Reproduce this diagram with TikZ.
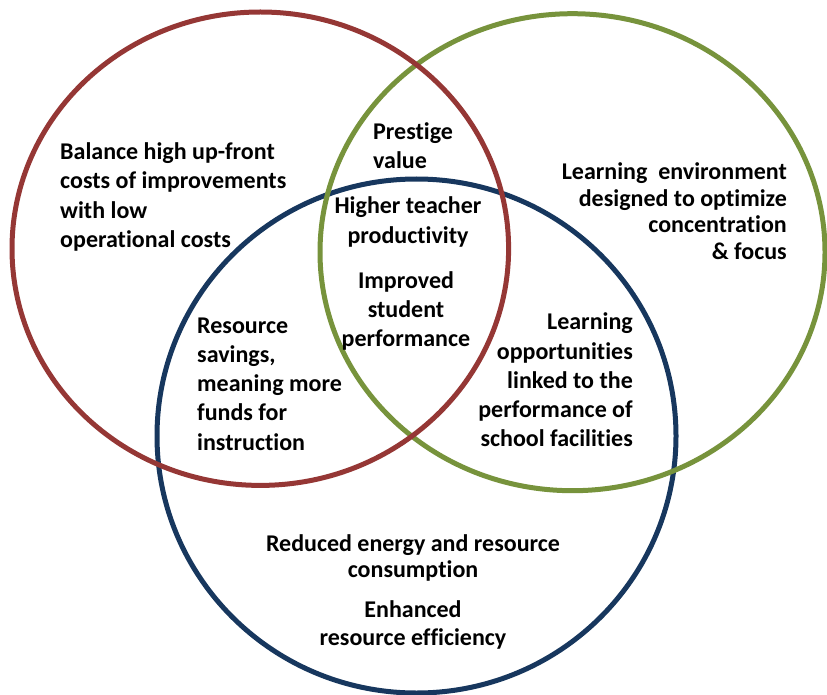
\documentclass[tikz,border=0pt]{standalone}
\usepackage{fontspec}
\setmainfont{Carlito}[Ligatures=NoCommon]
\definecolor{setred}{HTML}{953735}
\definecolor{setgreen}{HTML}{77933C}
\definecolor{setblue}{HTML}{17375E}
\tikzset{
  setline/.style={line width=5pt},
  lbl/.style={inner sep=0pt, font=\fontsize{24}{29.3}\selectfont\bfseries},
}
\begin{document}
\begin{tikzpicture}[x=1pt,y=-1pt]
\useasboundingbox (0,0) rectangle (827,695);
% the three sets
\draw[setline, setblue]  (416.5,436) ellipse [x radius=259.5, y radius=257];
\draw[setline, setgreen] (572.5,252.2) ellipse [x radius=252.5, y radius=238.5];
\draw[setline, setred]   (260.3,248.7) ellipse [x radius=248.3, y radius=236.7];
% labels
\node[lbl, align=left, anchor=west] (balance) at (60,197)
  {Balance high up-front\\costs of improvements\\with low\\operational costs};
\node[lbl, align=left, anchor=west] (prestige) at (373,146) {Prestige\\value};
\node[lbl, align=center] (teacher) at (408,222) {Higher teacher\\productivity};
\node[lbl, align=center] (student) at (406,311) {Improved\\student\\performance};
\node[lbl, align=right, anchor=east, font=\fontsize{24}{26.5}\selectfont\bfseries]
  (environment) at (787,211)
  {Learning\ \ environment\\designed to optimize\\concentration\\\& focus};
\node[lbl, align=left, anchor=west] (savings) at (197,384)
  {Resource\\savings,\\meaning more\\funds for\\instruction};
\node[lbl, align=right, anchor=east] (opportunities) at (633,380)
  {Learning\\opportunities\\linked to the\\performance of\\school facilities};
\node[lbl, align=center, font=\fontsize{24}{26}\selectfont\bfseries] (energy) at (413,558)
  {Reduced energy and resource\\consumption};
\node[lbl, align=center, font=\fontsize{24}{28}\selectfont\bfseries] (efficiency) at (413,625)
  {Enhanced\\resource efficiency};
\end{tikzpicture}
\end{document}
